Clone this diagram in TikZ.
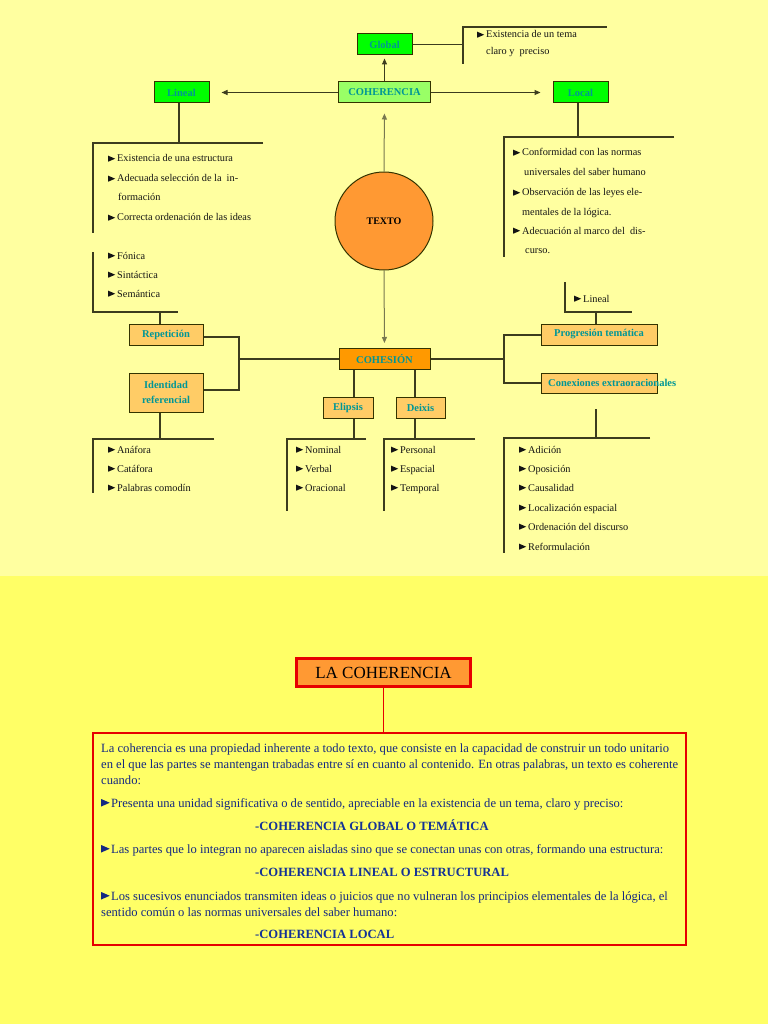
\documentclass[tikz,border=0pt]{standalone}
\usepackage{fontspec}
\setmainfont{Liberation Serif}
\usetikzlibrary{arrows.meta}
\definecolor{bgtop}{RGB}{255,255,160}
\definecolor{bgbot}{RGB}{255,255,102}
\definecolor{teal2}{RGB}{0,150,150}
\definecolor{gbox}{RGB}{0,255,0}
\definecolor{lgbox}{RGB}{153,255,102}
\definecolor{obox}{RGB}{255,204,102}
\definecolor{dobox}{RGB}{255,153,0}
\definecolor{circ}{RGB}{255,153,51}
\definecolor{bxline}{RGB}{51,51,0}
\definecolor{lnc}{RGB}{60,60,30}
\definecolor{alnc}{RGB}{120,120,80}
\definecolor{itc}{RGB}{20,20,20}
\definecolor{navy2}{RGB}{20,40,130}
\definecolor{navy3}{RGB}{20,50,150}
\definecolor{redb}{RGB}{230,0,0}
\newcommand{\tri}{\tikz[baseline=0pt]\fill[itc] (0pt,0.3pt) -- (0pt,6.3pt) -- (7pt,3.3pt) -- cycle;\hspace{2pt}}
\newcommand{\btri}{\tikz[baseline=0pt]\fill[navy2] (0pt,0.5pt) -- (0pt,8pt) -- (8.5pt,4.25pt) -- cycle;\hspace{1.5pt}}
\begin{document}
\begin{tikzpicture}[x=1pt,y=-1pt,
  every node/.style={inner sep=0pt},
  bx/.style={draw=bxline, line width=1pt, font=\fontsize{10.5}{12}\selectfont\bfseries, text=teal2, align=center},
  ln/.style={draw=lnc, line width=1.2pt},
  arr/.style={draw=lnc, line width=1pt, -{Triangle[length=6pt,width=5pt]}},
  arrg/.style={arr, draw=alnc},
  it/.style={anchor=base west, font=\fontsize{10.3}{12}\selectfont, text=itc},
  body/.style={anchor=base west, font=\fontsize{12.6}{14}\selectfont, text=navy2},
  head/.style={anchor=base west, font=\fontsize{12.6}{14}\selectfont\bfseries, text=navy3}]
\useasboundingbox (0,0) rectangle (768,1024);
\fill[bgtop] (0,0) rectangle (768,576);
\fill[bgbot] (0,576) rectangle (768,1024);

% ---------- boxes ----------
\node[bx, fill=gbox, minimum width=55, minimum height=21] (global) at (384.5,44.5) {Global};
\node[bx, fill=lgbox, minimum width=92, minimum height=21] (coh) at (384.5,92.5) {COHERENCIA};
\node[bx, fill=gbox, minimum width=55, minimum height=21] (lineal) at (181.5,92.5) {Lineal};
\node[bx, fill=gbox, minimum width=55, minimum height=21] (local) at (580.5,92.5) {Local};
\node[circle, draw=bxline, line width=1pt, fill=circ, minimum size=98, font=\fontsize{10}{11}\selectfont\bfseries] (texto) at (384,221) {TEXTO};
\node[bx, fill=dobox, minimum width=91, minimum height=21] (cohes) at (384.5,359) {COHESIÓN};
\node[bx, fill=obox, minimum width=74, minimum height=21] (rep) at (166,334.5) {Repetición};
\node[bx, fill=obox, minimum width=74, minimum height=39] (ident) at (166,392.5) {Identidad\\[3pt]referencial};
\node[bx, fill=obox, minimum width=50, minimum height=21] (elip) at (348,407.5) {Elipsis};
\node[bx, fill=obox, minimum width=49, minimum height=21] (deix) at (420.5,407.5) {Deixis};
\node[bx, fill=obox, minimum width=116, minimum height=21] (prog) at (599,334.5) {Progresión temática};
\node[bx, fill=obox, minimum width=116, minimum height=20] (conex) at (599,383) {};
\node[anchor=west, font=\fontsize{10.5}{12}\selectfont\bfseries, text=teal2] (conextxt) at (548,383) {Conexiones extraoracionales};

% ---------- arrows ----------
\draw[arr, shorten >=3pt] (coh.north) -- (global.south);
\draw[arr, shorten >=12pt] (coh.west) -- (lineal.east);
\draw[arr, shorten >=12pt] (coh.east) -- (local.west);
\draw[arrg, shorten >=10pt] (texto.north) -- (coh.south);
\draw[arrg, shorten >=5pt] (texto.south) -- (cohes.north);

% ---------- brackets ----------
\coordinate (gV) at (463,45);
\coordinate (gT) at (463,27);
\coordinate (gB) at (463,64);
\coordinate (gR) at (607,27);
\draw[ln] (global.east) -- (global.east -| gV);
\draw[ln] (gB) -- (gT) -- (gR);

\coordinate (lH) at (179,143);
\coordinate (lL) at (93,143);
\coordinate (lR) at (263,143);
\coordinate (lL2) at (93,233);
\coordinate (lL3) at (93,252);
\coordinate (lB) at (93,312);
\coordinate (lBR) at (178,312);
\coordinate (rT) at (160,312);
\draw[ln] (lineal.south -| lH) -- (lH);
\draw[ln] (lR) -- (lL) -- (lL2);
\draw[ln] (lL3) -- (lB) -- (lBR);
\draw[ln] (rT) -- (rT |- rep.north);

\coordinate (oH) at (578,137);
\coordinate (oL) at (504,137);
\coordinate (oR) at (674,137);
\coordinate (oB) at (504,257);
\draw[ln] (local.south -| oH) -- (oH);
\draw[ln] (oR) -- (oL) -- (oB);

\coordinate (pT) at (565,282);
\coordinate (pB) at (565,312);
\coordinate (pR) at (632,312);
\coordinate (pV) at (596,312);
\draw[ln] (pT) -- (pB) -- (pR);
\draw[ln] (pV) -- (pV |- prog.north);

% cohesion left
\coordinate (cL) at (239,359);
\coordinate (cLT) at (239,337);
\coordinate (cLB) at (239,390);
\draw[ln] (cohes.west) -- (cL);
\draw[ln] (rep.east |- cLT) -- (cLT) -- (cLB) -- (ident.east |- cLB);

% cohesion right
\coordinate (cR) at (504,359);
\coordinate (cRT) at (504,335);
\coordinate (cRB) at (504,383);
\draw[ln] (cohes.east) -- (cR);
\draw[ln] (prog.west |- cRT) -- (cRT) -- (cRB) -- (conex.west |- cRB);

% cohesion down
\coordinate (eV) at (354,359);
\coordinate (dV) at (415,359);
\draw[ln] (cohes.south -| eV) -- (elip.north -| eV);
\draw[ln] (cohes.south -| dV) -- (deix.north -| dV);

% identidad list
\coordinate (iH) at (160,439);
\coordinate (iL) at (93,439);
\coordinate (iR) at (214,439);
\coordinate (iB) at (93,493);
\draw[ln] (ident.south -| iH) -- (iH);
\draw[ln] (iR) -- (iL) -- (iB);

% elipsis list
\coordinate (eH) at (354,439);
\coordinate (eL) at (287,439);
\coordinate (eR) at (366,439);
\coordinate (eB) at (287,511);
\draw[ln] (elip.south -| eH) -- (eH);
\draw[ln] (eR) -- (eL) -- (eB);

% deixis list
\coordinate (dH) at (415,439);
\coordinate (dL) at (384,439);
\coordinate (dR) at (475,439);
\coordinate (dB) at (384,511);
\draw[ln] (deix.south -| dH) -- (dH);
\draw[ln] (dR) -- (dL) -- (dB);

% conexiones list
\coordinate (xT) at (596,409);
\coordinate (xH) at (596,438);
\coordinate (xL) at (504,438);
\coordinate (xR) at (650,438);
\coordinate (xB) at (504,553);
\draw[ln] (xT) -- (xH);
\draw[ln] (xR) -- (xL) -- (xB);

% ---------- item texts ----------
\node[it] (g1) at (477,38) {\tri Existencia de un tema};
\node[it] (g2) at (486,55) {claro y\ \ preciso};

\node[it] (l1) at (108,162) {\tri Existencia de una estructura};
\node[it] (l2) at (108,182) {\tri Adecuada selección de la\ \ in-};
\node[it] (l3) at (118,201) {formación};
\node[it] (l4) at (108,221) {\tri Correcta ordenación de las ideas};
\node[it] (l5) at (108,259) {\tri Fónica};
\node[it] (l6) at (108,278) {\tri Sintáctica};
\node[it] (l7) at (108,297) {\tri Semántica};

\node[it] (o1) at (513,156) {\tri Conformidad con las normas};
\node[it] (o2) at (524,176) {universales del saber humano};
\node[it] (o3) at (513,196) {\tri Observación de las leyes ele-};
\node[it] (o4) at (522,215) {mentales de la lógica.};
\node[it] (o5) at (513,234) {\tri Adecuación al marco del\ \ dis-};
\node[it] (o6) at (525,253) {curso.};

\node[it] (p1) at (574,302) {\tri Lineal};

\node[it] (i1) at (108,453) {\tri Anáfora};
\node[it] (i2) at (108,472) {\tri Catáfora};
\node[it] (i3) at (108,491) {\tri Palabras comodín};

\node[it] (e1) at (296,453) {\tri Nominal};
\node[it] (e2) at (296,472) {\tri Verbal};
\node[it] (e3) at (296,491) {\tri Oracional};

\node[it] (d1) at (391,453) {\tri Personal};
\node[it] (d2) at (391,472) {\tri Espacial};
\node[it] (d3) at (391,491) {\tri Temporal};

\node[it] (x1) at (519,453) {\tri Adición};
\node[it] (x2) at (519,472) {\tri Oposición};
\node[it] (x3) at (519,491) {\tri Causalidad};
\node[it] (x4) at (519,511) {\tri Localización espacial};
\node[it] (x5) at (519,530) {\tri Ordenación del discurso};
\node[it] (x6) at (519,550) {\tri Reformulación};

% ---------- bottom part ----------
\node[draw=redb, line width=2.5pt, fill=circ, minimum width=174, minimum height=28, font=\fontsize{17}{19}\selectfont] (lacoh) at (383.5,672.5) {LA COHERENCIA};
\node[draw=redb, line width=1.8pt, minimum width=593, minimum height=212] (big) at (389.5,839) {};
\draw[draw=redb, line width=1.2pt] (lacoh.south) -- (big.north -| lacoh.south);

\node[body] (b1) at (101,752) {La coherencia es una propiedad inherente a todo texto, que consiste en la capacidad de construir un todo unitario};
\node[body] (b2) at (101,768) {en el que las partes se mantengan trabadas entre sí en cuanto al contenido. En otras palabras, un texto es coherente};
\node[body] (b3) at (101,784) {cuando:};
\node[body] (b4) at (101,807) {\btri Presenta una unidad significativa o de sentido, apreciable en la existencia de un tema, claro y preciso:};
\node[head] (h1) at (255,830) {-COHERENCIA GLOBAL O TEMÁTICA};
\node[body] (b5) at (101,853) {\btri Las partes que lo integran no aparecen aisladas sino que se conectan unas con otras, formando una estructura:};
\node[head] (h2) at (255,876) {-COHERENCIA LINEAL O ESTRUCTURAL};
\node[body] (b6) at (101,900) {\btri Los sucesivos enunciados transmiten ideas o juicios que no vulneran los principios elementales de la lógica, el};
\node[body] (b7) at (101,916) {sentido común o las normas universales del saber humano:};
\node[head] (h3) at (255,938) {-COHERENCIA LOCAL};
\end{tikzpicture}
\end{document}
